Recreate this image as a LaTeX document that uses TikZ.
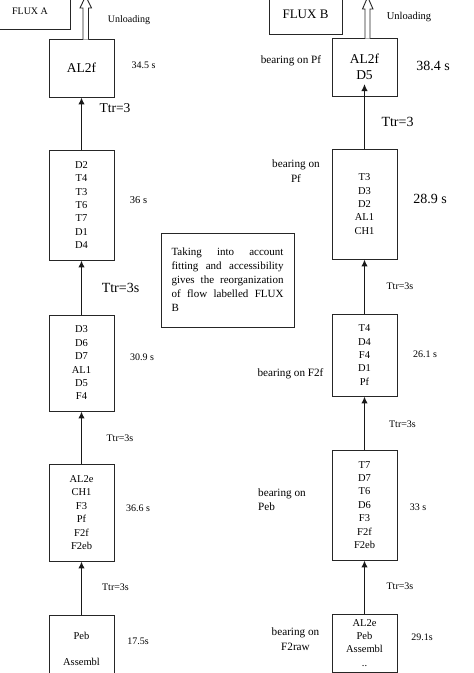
\documentclass[tikz,border=0pt]{standalone}
\usepackage{fontspec}
\setmainfont{Liberation Serif}
\usetikzlibrary{arrows.meta,calc}
\newcommand\fsz[2]{\fontsize{#1}{#2}\selectfont}
\begin{document}
\begin{tikzpicture}[x=1pt,y=-1pt,
  box/.style={draw=black!85,line width=0.9pt,minimum width=65pt,inner sep=0pt,align=center,font=\fsz{10.5}{13.4}},
  cell/.style={inner sep=0pt,align=center,font=\fsz{10.5}{13.4}},
  flow/.style={line width=1.5pt,draw=black!90,-{Latex[length=7pt,width=6.5pt]}},
  hollow/.style={draw=black!85,line width=0.9pt,fill=white},
  lab/.style={inner sep=0pt,font=\fsz{10}{12}},
  big/.style={inner sep=0pt,font=\fsz{14}{16}},
  bear/.style={inner sep=0pt,font=\fsz{11.2}{14.5},align=center},
  note/.style={draw=black!85,line width=0.9pt,minimum width=133pt,minimum height=94pt,inner sep=0pt,text width=112pt,align=justify,font=\fsz{11}{14}},
]
\useasboundingbox (0,0) rectangle (474,673);
\clip (0,0) rectangle (474,673);

% ---------- FLUX A ----------
\node[draw=black!85,line width=0.9pt,minimum width=80pt,minimum height=36pt,inner sep=0pt,font=\fsz{10}{12}] (FA) at (30,11) {FLUX A};
\node[box,minimum height=58pt,font=\fsz{13.5}{16}] (L1) at (81.5,68) {AL2f};
\node[box,minimum height=110pt] (L2) at (81.5,205) {D2\\T4\\T3\\T6\\T7\\D1\\D4};
\node[box,minimum height=96pt] (L3) at (81.5,363) {D3\\D6\\D7\\AL1\\D5\\F4};
\node[box,minimum height=97pt] (L4) at (81.5,512.5) {AL2e\\CH1\\F3\\Pf\\F2f\\F2eb};
\node[box,minimum height=67pt,anchor=north] (L5) at (81.5,615) {Peb\\[13.4pt]Assembl};

\draw[hollow] (83,39.5) -- (83,8) -- (80,8) -- (85.7,-4) -- (91.5,8) -- (88.5,8) -- (88.5,39.5);
\node[lab] (LU) at (129,20) {Unloading};

\draw[flow] (L2.north) -- (L1.south);
\draw[flow] (L3.north) -- (L2.south);
\draw[flow] (L4.north) -- (L3.south);
\draw[flow] (L5.north) -- (L4.south);

\node[lab] (Lt1) at (143.5,65) {34.5 s};
\node[big,font=\fsz{13.5}{16}] (Lr1) at (115,108) {Ttr=3};
\node[lab,font=\fsz{10.5}{12}] (Lt2) at (138.5,200) {36 s};
\node[big] (Lr2) at (120.5,288) {Ttr=3s};
\node[lab] (Lt3) at (142,357) {30.9 s};
\node[lab] (Lr3) at (120,438) {Ttr=3s};
\node[lab] (Lt4) at (138,508) {36.6 s};
\node[lab] (Lr4) at (115.5,587) {Ttr=3s};
\node[lab] (Lt5) at (138,641) {17.5s};

% ---------- note ----------
\node[note] (N) at (227.5,280) {Taking into account\linebreak fitting and accessibility\linebreak gives the reorganization\linebreak of flow labelled FLUX\linebreak B};

% ---------- FLUX B ----------
\node[draw=black!85,line width=0.9pt,minimum width=73pt,minimum height=40pt,inner sep=0pt,font=\fsz{13}{15}] (FB) at (305.5,14) {FLUX B};
\node[box,minimum height=58pt,font=\fsz{13.5}{16}] (R1) at (364.5,67) {AL2f\\D5};
\node[box,minimum height=110pt] (R2) at (364.5,204) {T3\\D3\\D2\\AL1\\CH1};
\node[box,minimum height=82pt] (R3) at (364.5,355) {T4\\D4\\F4\\D1\\Pf};
\node[box,minimum height=110pt] (R4) at (364.5,505) {T7\\D7\\T6\\D6\\F3\\F2f\\F2eb};
\node[box,minimum height=58pt,anchor=north] (R5) at (364.5,614) {};
\node[cell,anchor=north] (R5t) at (364.5,619) {AL2e\\Peb\\Assembl\\..};

\draw[hollow] (365,38.5) -- (365,9) -- (362.5,9) -- (367.7,-3) -- (373,9) -- (370,9) -- (370,38.5);
\node[lab,font=\fsz{10.5}{12}] (RU) at (409,17) {Unloading};

\coordinate (tipB) at (364.5,84);
\draw[flow] (R2.north) -- (tipB);
\draw[flow] (R3.north) -- (R2.south);
\draw[flow] (R4.north) -- (R3.south);
\draw[flow] (R5.north) -- (R4.south);

\node[bear] (Rb1) at (291,61) {bearing on Pf};
\node[big] (Rt1) at (433,66) {38.4 s};
\node[big] (Rr1) at (397.5,122) {Ttr=3};
\node[bear] (Rb2) at (296,171) {bearing on\\Pf};
\node[big] (Rt2) at (430,199) {28.9 s};
\node[lab] (Rr2) at (400,286) {Ttr=3s};
\node[lab] (Rt3) at (425,354) {26.1 s};
\node[bear] (Rb3) at (290.5,374) {bearing on F2f};
\node[lab] (Rr3) at (402.5,424) {Ttr=3s};
\node[lab] (Rt4) at (418,507) {33 s};
\node[bear,align=left,anchor=west] (Rb4) at (258,499.5) {bearing on\\Peb};
\node[lab] (Rr4) at (400,586) {Ttr=3s};
\node[bear] (Rb5) at (295.5,639) {bearing on\\F2raw};
\node[lab] (Rt5) at (422,637) {29.1s};
\end{tikzpicture}
\end{document}
